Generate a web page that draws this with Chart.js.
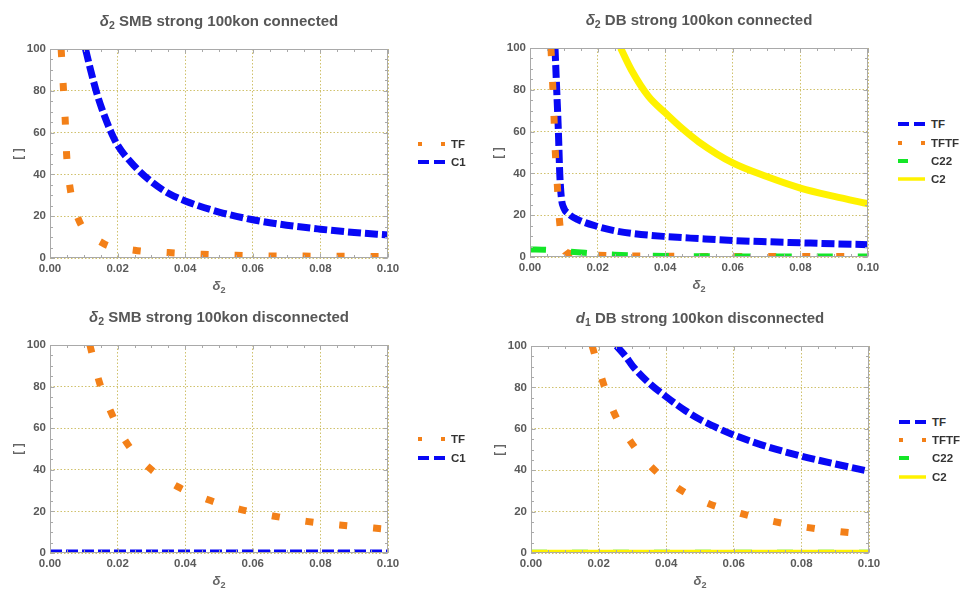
<!DOCTYPE html>
<html><head><meta charset="utf-8">
<script src="https://cdn.jsdelivr.net/npm/chart.js@4.4.1/dist/chart.umd.min.js"></script>
<style>
html,body{margin:0;padding:0;background:#fff;}
body{width:963px;height:590px;position:relative;overflow:hidden;font-family:"Liberation Sans",Arial,sans-serif;}
canvas{position:absolute;}
.title{position:absolute;text-align:center;font-weight:bold;font-size:15px;color:#575757;white-space:nowrap;line-height:16px;}
.xt{position:absolute;text-align:center;font-size:13px;color:#666;line-height:14px;font-weight:bold;}
.yt{position:absolute;font-weight:bold;font-size:12px;color:#666;transform:rotate(-90deg);width:20px;text-align:center;line-height:12px;}
.lg{position:absolute;font-weight:bold;font-size:11.5px;color:#333;height:14px;line-height:14px;white-space:nowrap;}
.lg svg{position:absolute;left:0;top:3px;}
.lg span{position:absolute;left:33px;top:0;}
sub{font-size:70%;vertical-align:-0.3em;line-height:0;}
</style></head><body>
<script>
// ---- axis ticks ----
const xTickStep = 0.02;
const yTickStep = 20;
const xRange = [0, 0.10];
const yRange = [0, 100];

// ---- titles ----
const titles = [
  '<i>δ</i><sub>2</sub> SMB strong 100kon connected',
  '<i>δ</i><sub>2</sub> DB strong 100kon connected',
  '<i>δ</i><sub>2</sub> SMB strong 100kon disconnected',
  '<i>d</i><sub>1</sub> DB strong 100kon disconnected'
];
const xTitle = '<i>δ</i><sub>2</sub>';
const yTitle = '[ ]';

// ---- panel 1: SMB connected ----
const p1TFx = [0.0033,0.0039,0.0045,0.0049,0.0059,0.0084,0.0153,0.025,0.035,0.045,0.055,0.065,0.075,0.085,0.095,0.1];
const p1TFy = [100,83,66,50,34,18.6,7.4,3.7,2.6,1.8,1.3,1.0,0.9,0.8,0.7,0.65];
const p1C1x = [0.0105,0.012,0.014,0.016,0.018,0.02,0.025,0.03,0.035,0.04,0.05,0.06,0.07,0.08,0.09,0.1];
const p1C1y = [100,90,78,68.5,60.5,54,44,36.5,31,27.3,22,18.3,15.7,13.8,12.2,11];

// ---- panel 2: DB connected ----
const p2TFx = [0.0074,0.0079,0.0084,0.0088,0.0093,0.0100,0.0115,0.014,0.02,0.025,0.03,0.04,0.05,0.06,0.07,0.08,0.09,0.1];
const p2TFy = [100,80,60,40,28,23.5,20.5,18,14.6,12.6,11.3,9.8,8.8,7.9,7.3,6.8,6.3,5.9];
const p2TFTFx = [0.0062,0.0067,0.0071,0.0075,0.0081,0.0087,0.0095,0.0104,0.013,0.02,0.03,0.05,0.07,0.1];
const p2TFTFy = [100,83,67,50,34,18,8,2.6,1.5,0.9,0.5,0.3,0.25,0.2];
const p2C22x = [0,0.005,0.01,0.014,0.02,0.025,0.03,0.04,0.05,0.07,0.1];
const p2C22y = [3.6,3.4,2.8,2.3,1.5,1.1,0.8,0.5,0.35,0.25,0.2];
const p2C2x = [0.0268,0.03,0.035,0.04,0.045,0.05,0.06,0.07,0.08,0.09,0.1];
const p2C2y = [100,89.5,77,69,61.5,55,45,38.5,33,29,25.5];

// ---- panel 3: SMB disconnected ----
const p3TFx = [0.0118,0.0145,0.018,0.0225,0.0293,0.0376,0.0466,0.0562,0.066,0.0759,0.0857,0.0958,0.1];
const p3TFy = [100,82.7,67.9,53.4,41,32,25.7,21,17.8,15.2,13.5,12,11.4];
const p3C1x = [0,0.02,0.04,0.06,0.08,0.1];
const p3C1y = [0.8,0.8,0.8,0.8,0.8,0.8];

// ---- panel 4: DB disconnected ----
const p4TFx = [0.0253,0.028,0.03,0.035,0.04,0.045,0.05,0.055,0.06,0.065,0.07,0.08,0.09,0.1];
const p4TFy = [100,95,90.5,82,75.5,69.5,64.5,60.5,57,54,51.3,46.8,43,39.5];
const p4TFTFx = [0.0181,0.0211,0.0245,0.0295,0.0357,0.0435,0.0526,0.0623,0.0716,0.0815,0.0915,0.1];
const p4TFTFy = [100,83.5,68,53.8,41.4,31.3,23.8,19,15.3,12.4,10.3,9];
const p4C22x = [0,0.02,0.04,0.06,0.08,0.1];
const p4C22y = [0.8,0.8,0.8,0.8,0.8,0.8];
const p4C2x = [0,0.02,0.04,0.06,0.08,0.1];
const p4C2y = [0.8,0.8,0.8,0.8,0.8,0.8];

// ---- styles ----
const BLUE = 'rgb(8,8,245)', ORANGE = 'rgb(243,128,24)', GREEN = 'rgb(20,230,40)', YELLOW = 'rgb(255,242,0)';
const ST = {
  blueThick:  {c:BLUE, w:7, dash:[13,4], lg:{w:4, d:'11 5'}},
  blueThin:   {c:BLUE, w:3.5, dash:[12,4], lg:{w:4, d:'11 5'}},
  orange:     {c:ORANGE, w:7, dash:[8,26], lg:{w:4, d:'4 19'}},
  green:      {c:GREEN, w:6, dash:[16,25], lg:{w:4, d:'10 40'}},
  greenThin:  {c:GREEN, w:3, dash:[16,25], lg:{w:4, d:'10 40'}},
  yellow:     {c:YELLOW, w:7, dash:[], lg:{w:3.5, d:''}},
  yellowThin: {c:YELLOW, w:3, dash:[], lg:{w:3.5, d:''}}
};

function pts(xs, ys){ return xs.map((x,i)=>({x:x, y:ys[i]})); }

const panels = [
  {L:50, T:49, R:388, B:258, title:titles[0], legY:[144,162],
   series:[['TF',p1TFx,p1TFy,ST.orange],['C1',p1C1x,p1C1y,ST.blueThick]]},
  {L:530, T:48, R:868, B:257, title:titles[1], legY:[124,143,161,179],
   series:[['TF',p2TFx,p2TFy,ST.blueThick],['TFTF',p2TFTFx,p2TFTFy,ST.orange],['C22',p2C22x,p2C22y,ST.green],['C2',p2C2x,p2C2y,ST.yellow]]},
  {L:50, T:345, R:388, B:553, title:titles[2], legY:[439,458],
   series:[['TF',p3TFx,p3TFy,ST.orange],['C1',p3C1x,p3C1y,ST.blueThin]]},
  {L:531, T:346, R:869, B:553, title:titles[3], legY:[422,440,458,477],
   series:[['TF',p4TFx,p4TFy,ST.blueThick],['TFTF',p4TFTFx,p4TFTFy,ST.orange],['C22',p4C22x,p4C22y,ST.greenThin],['C2',p4C2x,p4C2y,ST.yellowThin]]}
];

const framePlugin = {
  id:'frame',
  afterDraw(chart){
    const {ctx, chartArea:a, scales:{x,y}} = chart;
    ctx.save();
    ctx.strokeStyle = '#a9a9a9';
    ctx.lineWidth = 1;
    const l = Math.round(a.left)+0.5, r = Math.round(a.right)-0.5, t = Math.round(a.top)+0.5, b = Math.round(a.bottom)-0.5;
    ctx.strokeRect(l, t, r-l, b-t);
    ctx.beginPath();
    for(let i=0;i<=20;i++){
      const v = i*0.005; const px = Math.round(x.getPixelForValue(v))+0.5;
      const len = (i%4===0)?4:2.5;
      ctx.moveTo(px,b); ctx.lineTo(px,b-len);
      ctx.moveTo(px,t); ctx.lineTo(px,t+len);
    }
    for(let i=0;i<=20;i++){
      const v = i*5; const py = Math.round(y.getPixelForValue(v))+0.5;
      const len = (i%4===0)?4:2.5;
      ctx.moveTo(l,py); ctx.lineTo(l+len,py);
      ctx.moveTo(r,py); ctx.lineTo(r-len,py);
    }
    ctx.stroke();
    ctx.restore();
  }
};

const gridColor = 'rgba(205,190,100,0.95)';
const tickFont = {family:'"Liberation Sans", Arial, sans-serif', size:11.5, weight:'bold'};

function addHTML(cls, html, style){
  const d = document.createElement('div');
  d.className = cls; d.innerHTML = html;
  Object.assign(d.style, style);
  document.body.appendChild(d);
  return d;
}

panels.forEach(p => {
  const cw = (p.R-p.L)+75, ch = (p.B-p.T)+87;
  const cv = document.createElement('canvas');
  cv.width = cw; cv.height = ch;
  cv.style.left = (p.L-50)+'px'; cv.style.top = (p.T-45)+'px';
  cv.style.width = cw+'px'; cv.style.height = ch+'px';
  document.body.appendChild(cv);
  const n = p.series.length;
  const datasets = p.series.map((s,i)=>({
    label:s[0], data:pts(s[1],s[2]), showLine:true,
    borderColor:s[3].c, backgroundColor:s[3].c, borderWidth:s[3].w,
    borderDash:s[3].dash, borderCapStyle:'butt', borderJoinStyle:'round',
    pointRadius:0, pointHoverRadius:0, fill:false,
    cubicInterpolationMode:'monotone', clip:0, order:n-i
  }));
  new Chart(cv, {
    type:'scatter',
    data:{datasets},
    options:{
      responsive:false, animation:false, devicePixelRatio:1,
      layout:{padding:{left:0, top:45, right:25, bottom:0}},
      plugins:{legend:{display:false}, tooltip:{enabled:false}, title:{display:false}},
      scales:{
        x:{type:'linear', min:xRange[0], max:xRange[1],
           afterFit(s){ s.height = 42; },
           ticks:{stepSize:xTickStep, padding:4, color:'#5a5a5a', font:tickFont, maxRotation:0,
                  callback:v=>Number(v).toFixed(2)},
           grid:{color:gridColor, lineWidth:1, drawTicks:false},
           border:{display:false, dash:[1.5,2]}},
        y:{type:'linear', min:yRange[0], max:yRange[1],
           afterFit(s){ s.width = 50; },
           ticks:{stepSize:yTickStep, padding:4, color:'#5a5a5a', font:tickFont},
           grid:{color:gridColor, lineWidth:1, drawTicks:false},
           border:{display:false, dash:[1.5,2]}}
      }
    },
    plugins:[framePlugin]
  });
  const cx = (p.L+p.R)/2;
  addHTML('title', p.title, {left:(cx-200)+'px', width:'400px', top:(p.T-36)+'px'});
  addHTML('xt', xTitle, {left:(cx-30)+'px', width:'60px', top:(p.B+21)+'px'});
  addHTML('yt', yTitle, {left:(p.L-42)+'px', top:((p.T+p.B)/2-6)+'px'});
  p.series.forEach((s,i)=>{
    const lg = s[3].lg;
    const svg = `<svg width="28" height="8"><line x1="0" y1="4" x2="27" y2="4" stroke="${s[3].c}" stroke-width="${lg.w}" ${lg.d?`stroke-dasharray="${lg.d}"`:''}/></svg>`;
    addHTML('lg', svg+'<span>'+s[0]+'</span>', {left:(p.R+30)+'px', top:(p.legY[i]-7)+'px'});
  });
});
</script>
</body></html>
